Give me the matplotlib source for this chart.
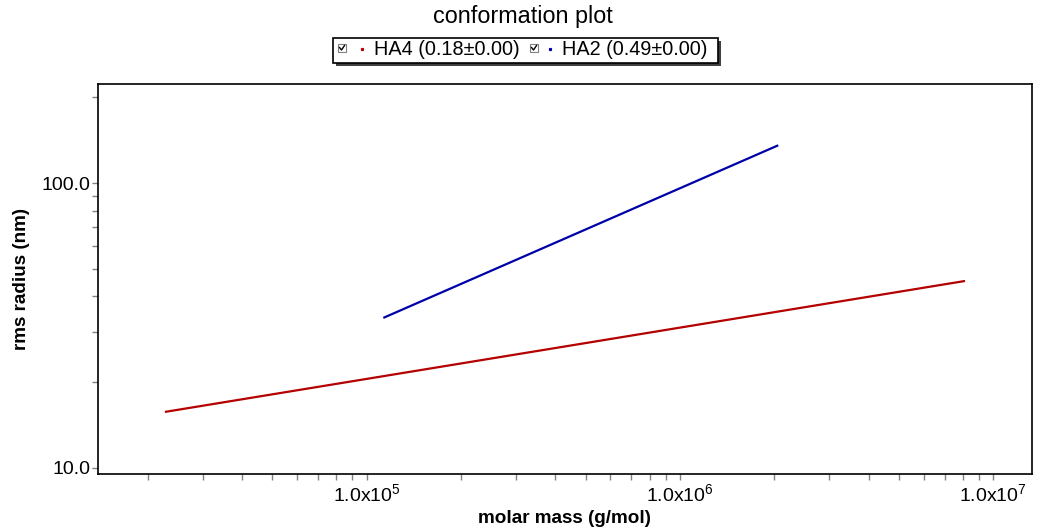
import matplotlib
matplotlib.use("Agg")
import matplotlib.pyplot as plt
from matplotlib.ticker import FuncFormatter, LogLocator, NullFormatter
from matplotlib.patches import Rectangle
from matplotlib.lines import Line2D
import numpy as np

plt.rcParams["font.family"] = ["Liberation Sans", "DejaVu Sans"]
plt.rcParams["mathtext.fontset"] = "custom"
plt.rcParams["mathtext.rm"] = "Liberation Sans"

W, H = 1042, 529

# fitted conformation lines (end points)
ha4_mass = [2.27e4, 8.13e6]
ha4_radius = [15.7, 45.3]
ha2_mass = [1.13e5, 2.06e6]
ha2_radius = [33.6, 135.8]

series_names = ["HA4", "HA2"]
series_slopes = [0.18, 0.49]
series_errors = [0.00, 0.00]
series_colors = ["#B40000", "#0000A8"]


def fx(x):
    return x / W


def fy(y):
    return 1 - y / H


fig = plt.figure(figsize=(W / 100, H / 100), dpi=100)
ax = fig.add_axes([fx(98), fy(474), fx(1032) - fx(98), fy(84) - fy(474)])

ax.plot(ha4_mass, ha4_radius, color=series_colors[0], lw=1.6, solid_capstyle="butt")
ax.plot(ha2_mass, ha2_radius, color=series_colors[1], lw=1.6, solid_capstyle="butt")

ax.set_xscale("log")
ax.set_yscale("log")
ax.set_xlim(1.388e4, 1.33e7)
ax.set_ylim(9.5, 223)

ax.xaxis.set_major_locator(LogLocator(base=10))
ax.xaxis.set_minor_locator(LogLocator(base=10, subs=np.arange(2, 10)))
ax.yaxis.set_major_locator(LogLocator(base=10))
ax.yaxis.set_minor_locator(LogLocator(base=10, subs=np.arange(2, 10)))
ax.xaxis.set_minor_formatter(NullFormatter())
ax.yaxis.set_minor_formatter(NullFormatter())
ax.xaxis.set_major_formatter(
    FuncFormatter(lambda v, p: r"1.0x10$^{\mathregular{%d}}$" % round(np.log10(v)))
)
ax.yaxis.set_major_formatter(FuncFormatter(lambda v, p: "%.1f" % v))

ax.tick_params(which="both", direction="out", length=4, width=1, color="#808080",
               labelsize=14, labelcolor="black")
ax.tick_params(axis="x", which="both", pad=3)
ax.tick_params(axis="y", which="both", pad=1.5)

for s in ax.spines.values():
    s.set_linewidth(1.2)
    s.set_color("black")

ax.set_xlabel("molar mass (g/mol)", fontsize=13.6, fontweight="bold", labelpad=3)
ax.set_ylabel("rms radius (nm)", fontsize=13.6, fontweight="bold", labelpad=8)

fig.text(fx(523), fy(16), "conformation plot", fontsize=16.8, ha="center", va="center")

# legend box with shadow
fig.add_artist(Rectangle((fx(336), fy(66)), fx(718) - fx(333), fy(38) - fy(63),
                         transform=fig.transFigure, facecolor="#404040",
                         edgecolor="none", zorder=5))
fig.add_artist(Rectangle((fx(333), fy(63)), fx(718) - fx(333), fy(38) - fy(63),
                         transform=fig.transFigure, facecolor="white",
                         edgecolor="black", lw=1.2, zorder=6))

box_x = [338, 530]
dot_x = [362, 550]
text_x = [374, 562]
for i in range(2):
    x0 = box_x[i]
    fig.add_artist(Rectangle((fx(x0), fy(52)), fx(8), fy(44) - fy(52),
                             transform=fig.transFigure, facecolor="white",
                             edgecolor="#808080", lw=0.8, zorder=7))
    fig.add_artist(Line2D([fx(x0 + 1.5), fx(x0 + 3.5), fx(x0 + 6.5)],
                          [fy(47.5), fy(50), fy(45.5)], transform=fig.transFigure,
                          color="black", lw=1.0, zorder=8))
    fig.add_artist(Line2D([fx(dot_x[i])], [fy(49)], transform=fig.transFigure,
                          marker="s", markersize=1.3, color=series_colors[i],
                          lw=0, zorder=8))
    label = "%s (%.2f\u00b1%.2f)" % (series_names[i], series_slopes[i], series_errors[i])
    fig.text(fx(text_x[i]), fy(49.5), label, fontsize=14.3, ha="left", va="center", zorder=8)

fig.savefig("out.png", dpi=100)
